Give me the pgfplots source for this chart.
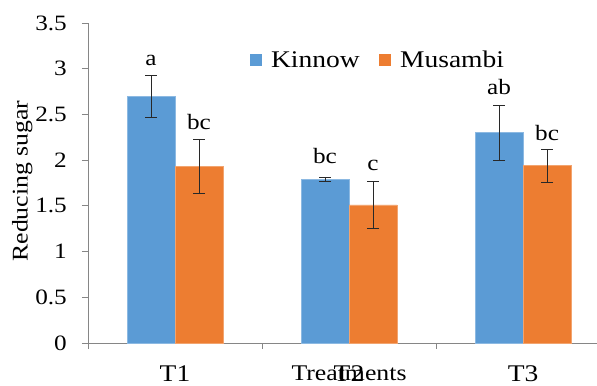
\documentclass[border=0pt]{standalone}
\usepackage{fontspec}
\setmainfont{Liberation Serif}[FakeStretch=1.15]
\usepackage{pgfplots}
\pgfplotsset{compat=1.18}
\usepackage{pgfplotstable}
\definecolor{kin}{RGB}{91,155,213}
\definecolor{mus}{RGB}{237,125,49}
\definecolor{axgray}{RGB}{134,134,134}
\definecolor{errc}{RGB}{40,40,40}

\pgfplotstableread{
x y err lab ly
0 2.70 0.23 a 3.04
1 1.79 0.02 bc 1.965
2 2.30 0.30 ab 2.72
}\kintab
\pgfplotstableread{
x y err lab ly
0 1.93 0.30 bc 2.34
1 1.51 0.26 c 1.89
2 1.94 0.18 bc 2.215
}\mustab

\begin{document}
\begin{tikzpicture}
\useasboundingbox (0,0) rectangle (597bp,386bp);
\begin{axis}[
  at={(88bp,43bp)}, anchor=south west,
  scale only axis, width=509bp, height=320bp,
  xmin=-0.5, xmax=2.425, ymin=0, ymax=3.5,
  axis x line*=bottom, axis y line*=left,
  axis line style={axgray, line width=0.8bp, -},
  tick style={axgray, line width=0.8bp},
  major tick length=6bp,
  xtick align=outside, ytick align=outside,
  xtick={-0.5,0.5,1.5}, xticklabels={T1,T2,T3},
  xticklabel style={anchor=base, xshift=87bp, yshift=-32bp, inner sep=0pt,
    font=\fontsize{24}{28}\selectfont},
  ytick={0,0.5,...,3.5},
  yticklabel style={anchor=east, inner sep=0pt, xshift=-15bp,
    font=\fontsize{22}{26}\selectfont},
  /pgf/number format/assume math mode=true,
  xlabel={Treatments},
  every axis x label/.style={at={(axis cs:1,0)}, anchor=base, yshift=-37bp,
    inner sep=0pt, font=\fontsize{22.5}{26}\selectfont},
  ylabel={Reducing sugar},
  every axis y label/.style={at={([xshift=-60.3bp]axis description cs:0,0.506)},
    rotate=90, anchor=base, inner sep=0pt, font=\fontsize{22.5}{26}\selectfont},
  legend columns=2,
  legend style={at={(0.317,0.92)}, anchor=north west, draw=none, fill=none,
    inner sep=0pt, font=\fontsize{24}{28}\selectfont,
    /tikz/every even column/.append style={column sep=17bp}},
  legend cell align=left,
  clip=false,
]
\addplot[ybar, bar width=48bp, bar shift=-24bp, fill=kin, draw=kin!70!white, line width=0.5bp,
  legend image code/.code={\fill[kin, draw=none] (0bp,-6.5bp) rectangle (12.5bp,6bp);
    \path[draw=none, fill=none] (0bp,0bp) rectangle (19.5bp,0.1bp);}]
  table[x=x, y=y]{\kintab};
\addlegendentry{Kinnow}
\addplot[ybar, bar width=48bp, bar shift=24bp, fill=mus, draw=mus!70!white, line width=0.5bp,
  legend image code/.code={\fill[mus, draw=none] (0bp,-6.5bp) rectangle (12.5bp,6bp);
    \path[draw=none, fill=none] (0bp,0bp) rectangle (19.5bp,0.1bp);}]
  table[x=x, y=y]{\mustab};
\addlegendentry{Musambi}
% error bars
\addplot[forget plot, draw=none, mark=none,
  error bars/.cd, y dir=both, y explicit,
  error bar style={line width=1bp, errc},
  error mark options={rotate=90, mark size=6bp, line width=1bp, errc}]
  table[x expr=\thisrow{x}-0.13793, y=y, y error=err]{\kintab};
\addplot[forget plot, draw=none, mark=none,
  error bars/.cd, y dir=both, y explicit,
  error bar style={line width=1bp, errc},
  error mark options={rotate=90, mark size=6bp, line width=1bp, errc}]
  table[x expr=\thisrow{x}+0.13793, y=y, y error=err]{\mustab};
% significance letters
\addplot[forget plot, draw=none, mark=none, nodes near coords, point meta=explicit symbolic,
  every node near coord/.style={anchor=base, inner sep=0pt, text=black,
    font=\fontsize{22}{26}\selectfont}]
  table[x expr=\thisrow{x}-0.13793, y=ly, meta=lab]{\kintab};
\addplot[forget plot, draw=none, mark=none, nodes near coords, point meta=explicit symbolic,
  every node near coord/.style={anchor=base, inner sep=0pt, text=black,
    font=\fontsize{22}{26}\selectfont}]
  table[x expr=\thisrow{x}+0.13793, y=ly, meta=lab]{\mustab};
\end{axis}
\end{tikzpicture}
\end{document}
